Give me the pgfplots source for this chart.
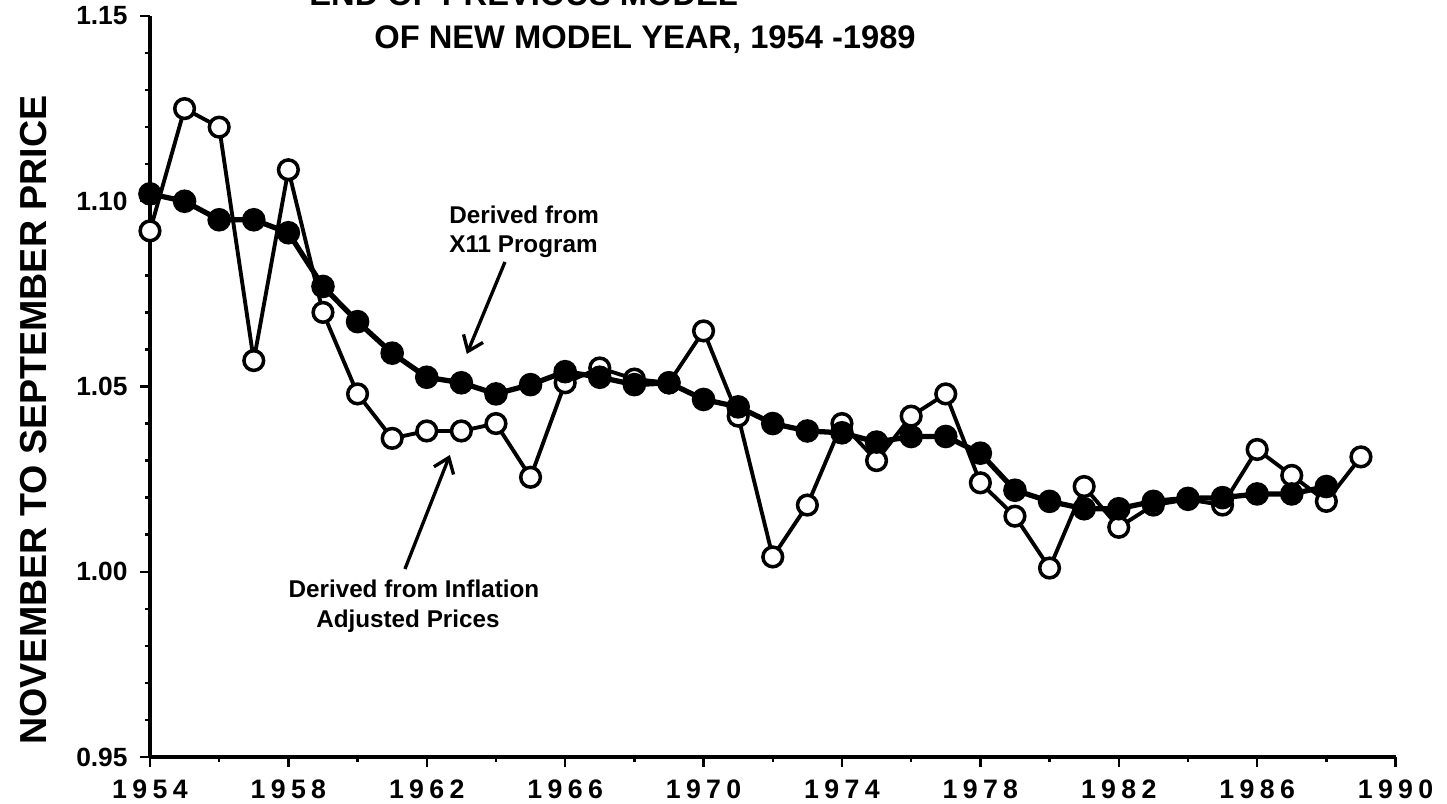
\documentclass[border=0pt]{standalone}
\usepackage{fontspec}
\setmainfont{Liberation Sans}
\newfontfamily\tickfont[LetterSpace=20]{Liberation Sans}
\usepackage{pgfplots}
\pgfplotsset{compat=1.18}
\usetikzlibrary{arrows.meta}

\pgfplotstableread{
year ratio
1954 1.092
1955 1.125
1956 1.120
1957 1.057
1958 1.1085
1959 1.070
1960 1.048
1961 1.036
1962 1.038
1963 1.038
1964 1.040
1965 1.0255
1966 1.051
1967 1.055
1968 1.052
1969 1.051
1970 1.065
1971 1.042
1972 1.004
1973 1.018
1974 1.040
1975 1.030
1976 1.042
1977 1.048
1978 1.024
1979 1.015
1980 1.001
1981 1.023
1982 1.012
1983 1.018
1984 1.0195
1985 1.018
1986 1.033
1987 1.026
1988 1.019
1989 1.031
}\inflation

\pgfplotstableread{
year ratio
1954 1.102
1955 1.100
1956 1.095
1957 1.095
1958 1.0915
1959 1.077
1960 1.0675
1961 1.059
1962 1.0525
1963 1.051
1964 1.048
1965 1.0505
1966 1.054
1967 1.0525
1968 1.0505
1969 1.051
1970 1.0465
1971 1.0445
1972 1.040
1973 1.038
1974 1.0375
1975 1.035
1976 1.0365
1977 1.0365
1978 1.032
1979 1.022
1980 1.019
1981 1.017
1982 1.017
1983 1.019
1984 1.0198
1985 1.020
1986 1.021
1987 1.021
1988 1.023
}\xeleven

\begin{document}
\begin{tikzpicture}
\begin{axis}[
    scale only axis,
    width=12.456cm, height=7.41cm,
    xmin=1954, xmax=1990,
    ymin=0.95, ymax=1.15,
    axis x line=bottom, axis y line=left,
    axis line style={-, line width=1.4pt},
    clip=false,
    xtick={1954,1958,...,1990},
    minor xtick={1956,1960,...,1988},
    ytick={0.95,1,1.05,1.1,1.15},
    minor y tick num=4,
    tick align=outside,
    major tick length=0.1cm,
    minor tick length=0.05cm,
    every tick/.style={black, line width=0.7pt},
    /pgf/number format/assume math mode=true,
    xticklabel style={font=\tickfont\bfseries\fontsize{7.6}{9}\selectfont,
        /pgf/number format/1000 sep={}},
    yticklabel style={font=\bfseries\fontsize{7.5}{9}\selectfont,
        /pgf/number format/.cd, fixed, fixed zerofill, precision=2},
    ylabel={NOVEMBER TO SEPTEMBER PRICE},
    ylabel style={at={(rel axis cs:-0.0931,0.4548)}, anchor=center,
        font=\bfseries\fontsize{10.7}{12}\selectfont},
]
\addplot[black, line width=1.1pt, mark=*, mark size=2.8pt,
    mark options={fill=white, line width=1pt}] table[x=year, y=ratio] {\inflation};
\addplot[black, line width=1.5pt, mark=*, mark size=2.6pt,
    mark options={fill=black}] table[x=year, y=ratio] {\xeleven};

\node[anchor=base west, font=\bfseries\fontsize{9.3}{11}\selectfont]
    at (rel axis cs:0.118,1.0148) {END OF PREVIOUS MODEL};
\node[anchor=base west, font=\bfseries\fontsize{9.3}{11}\selectfont]
    at (rel axis cs:0.1702,0.9568) {OF NEW MODEL YEAR, 1954 -1989};

\node[anchor=base west, font=\bfseries\fontsize{6.9}{8}\selectfont]
    at (rel axis cs:0.2304,0.7206) {Derived from};
\node[anchor=base west, font=\bfseries\fontsize{6.9}{8}\selectfont]
    at (rel axis cs:0.2304,0.6802) {X11 Program};
\draw[-{Straight Barb[length=4pt, width=6pt]}, line width=0.95pt]
    (rel axis cs:0.285,0.668) -- (rel axis cs:0.2544,0.5439);

\node[anchor=base, font=\bfseries\fontsize{6.9}{8}\selectfont]
    at (rel axis cs:0.2119,0.2159) {Derived from Inflation};
\node[anchor=base, font=\bfseries\fontsize{6.9}{8}\selectfont]
    at (rel axis cs:0.2071,0.1754) {Adjusted Prices};
\draw[-{Straight Barb[length=4pt, width=6pt]}, line width=0.95pt]
    (rel axis cs:0.2047,0.2537) -- (rel axis cs:0.2408,0.4076);

\coordinate (bl) at (rel axis cs:-0.1204,-0.0634);
\coordinate (tr) at (rel axis cs:1.0413,1.0216);
\end{axis}
\pgfresetboundingbox
\useasboundingbox (bl) rectangle (tr);
\end{tikzpicture}
\end{document}
